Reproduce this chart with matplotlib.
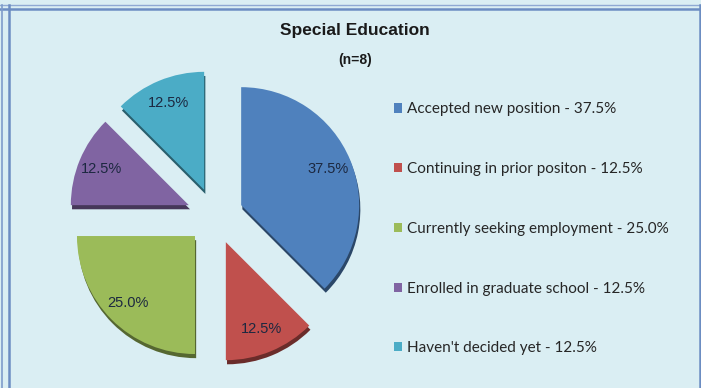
import matplotlib
matplotlib.use('Agg')
import matplotlib.pyplot as plt
from matplotlib import font_manager
from matplotlib.lines import Line2D
from matplotlib.patches import Patch
import matplotlib.colors as mcolors

# 数据
labels = ['Accepted new position', 'Continuing in prior positon', 'Currently seeking employment',
          'Enrolled in graduate school', "Haven't decided yet"]
values = [37.5, 12.5, 25.0, 12.5, 12.5]
colors = ['#4F81BD', '#C0504D', '#9BBB59', '#8064A2', '#4BACC6']
title = 'Special Education'
subtitle = '(n=8)'

installed = {f.name for f in font_manager.fontManager.ttflist}
narrow = [f for f in ['Liberation Sans Narrow', 'Liberation Sans', 'DejaVu Sans'] if f in installed]
body = [f for f in ['Lato', 'Open Sans', 'DejaVu Sans'] if f in installed]

bg = '#DAEEF3'
W, H = 701, 388
fig = plt.figure(figsize=(W / 100, H / 100), dpi=100, facecolor=bg)

# 饼图区域 (像素换算)
cx, cy, r_px, half = 215, 216, 118, 160
ax = fig.add_axes([(cx - half) / W, (H - cy - half) / H, 2 * half / W, 2 * half / H])
ax.set_facecolor(bg)
lim = half / r_px
ax.set_aspect('equal')
ax.axis('off')

explode = [0.24] * len(values)
dark = [tuple(c * 0.55 for c in mcolors.to_rgb(col)) for col in colors]

# 阴影 (3D 效果)
ax.pie(values, explode=explode, colors=dark, startangle=90, counterclock=False,
       center=(0.01, -0.035), radius=1.0, wedgeprops=dict(linewidth=0))
wedges, texts, autotexts = ax.pie(values, explode=explode, colors=colors, startangle=90,
                                  counterclock=False, radius=1.0, autopct='%.1f%%',
                                  pctdistance=0.8, wedgeprops=dict(linewidth=0),
                                  textprops=dict(fontsize=10.5, color='#1C2840', family=narrow))
ax.set_xlim(-lim, lim)
ax.set_ylim(-lim, lim)

fig.text(355 / W, 1 - 31 / H, title, ha='center', va='center', fontsize=12.5,
         weight='bold', family=narrow, color='#1A1A1A')
fig.text(355 / W, 1 - 60 / H, subtitle, ha='center', va='center', fontsize=10,
         weight='bold', family=narrow, color='#1A1A1A')

handles = [Patch(facecolor=c, edgecolor='none') for c in colors]
leg_labels = [f'{lab} - {v:.1f}%' for lab, v in zip(labels, values)]
leg = fig.legend(handles, leg_labels, loc='upper left', bbox_to_anchor=(394 / W, 1 - 102.5 / H),
                 frameon=False, labelspacing=2.99, handlelength=0.55,
                 handleheight=0.55, handletextpad=0.3, borderpad=0, borderaxespad=0,
                 prop=dict(family=body, size=11))
for t in leg.get_texts():
    t.set_color('#262626')

# 边框
def vline(x, lw, col):
    fig.add_artist(Line2D([x / W, x / W], [0, 1 - 5 / H], transform=fig.transFigure, lw=lw, color=col))

def hline(y, lw, col):
    fig.add_artist(Line2D([0, 1], [1 - y / H, 1 - y / H], transform=fig.transFigure, lw=lw, color=col))

hline(5, 1.0, '#8FA9D3')
hline(8.5, 1.8, '#6C8DC2')
vline(2, 1.2, '#7E9CCB')
vline(9, 1.8, '#6C8DC2')
vline(699.5, 1.8, '#6C8DC2')

fig.savefig('out.png', dpi=100, facecolor=bg)
